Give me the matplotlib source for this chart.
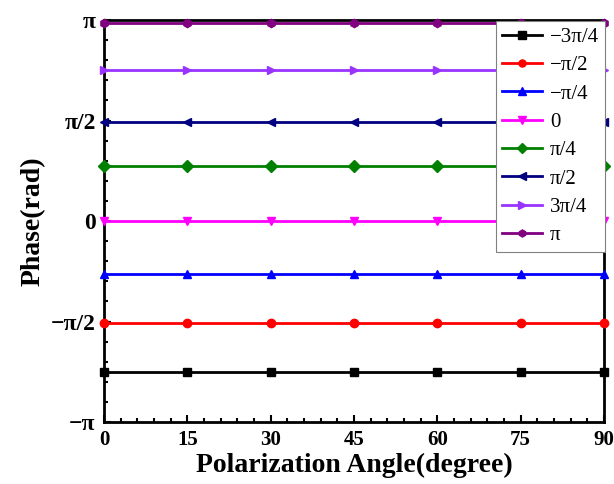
import numpy as np
import matplotlib.pyplot as plt
from matplotlib.ticker import AutoMinorLocator

plt.rcParams['font.family'] = ['Liberation Serif', 'DejaVu Serif']

angles = [0, 15, 30, 45, 60, 75, 90]
labels = ['\u22123\u03c0/4', '\u2212\u03c0/2', '\u2212\u03c0/4', '0',
          '\u03c0/4', '\u03c0/2', '3\u03c0/4', '\u03c0']
# measured phase for each input phase setting (rad)
phase_levels = [-2.36, -1.60, -0.83, 0.0, 0.86, 1.55, 2.36, 3.10]

colors = ['black', 'red', 'blue', 'magenta', 'green', 'navy', '#9933ff', 'purple']
markers = ['s', 'o', '^', 'v', 'D', '<', '>', 'h']

fig = plt.figure(figsize=(6.14, 4.84), dpi=100)
ax = fig.add_axes([0.1694, 0.128, 0.8143, 0.8307])

for lvl, lab, c, m in zip(phase_levels, labels, colors, markers):
    ax.plot(angles, [lvl] * len(angles), color=c, marker=m, lw=2,
            ms=6, label=lab, clip_on=False, zorder=3)

ax.set_xlim(0, 90)
ax.set_ylim(-np.pi, np.pi)
ax.set_xticks(angles)
ax.xaxis.set_minor_locator(AutoMinorLocator(5))
ax.set_yticks([-np.pi, -np.pi / 2, 0, np.pi / 2, np.pi])
ax.set_yticklabels(['\u2212\u03c0', '\u2212\u03c0/2', '0', '\u03c0/2', '\u03c0'],
                   fontsize=17)
ax.yaxis.set_minor_locator(AutoMinorLocator(5))

ax.tick_params(which='both', direction='in', width=1.5, pad=6)
ax.tick_params(axis='x', labelsize=15)
ax.tick_params(which='major', length=5)
ax.tick_params(which='minor', length=3)
for t in ax.get_xticklabels() + ax.get_yticklabels():
    t.set_fontweight('bold')
for s in ax.spines.values():
    s.set_linewidth(2)

ax.set_xlabel('Polarization Angle(degree)', fontsize=20, fontweight='bold', labelpad=2)
ax.set_ylabel('Phase(rad)', fontsize=20, fontweight='bold', labelpad=4)

leg = ax.legend(loc='upper right', bbox_to_anchor=(1.003, 0.997), fontsize=15,
                frameon=True, fancybox=False, edgecolor='gray', framealpha=1,
                handlelength=1.9, labelspacing=0.42, borderaxespad=0,
                handletextpad=0.4, borderpad=0.3, markerscale=0.85)
leg.get_frame().set_linewidth(0.8)
leg.set_zorder(5)

fig.savefig('out.png', dpi=100)
